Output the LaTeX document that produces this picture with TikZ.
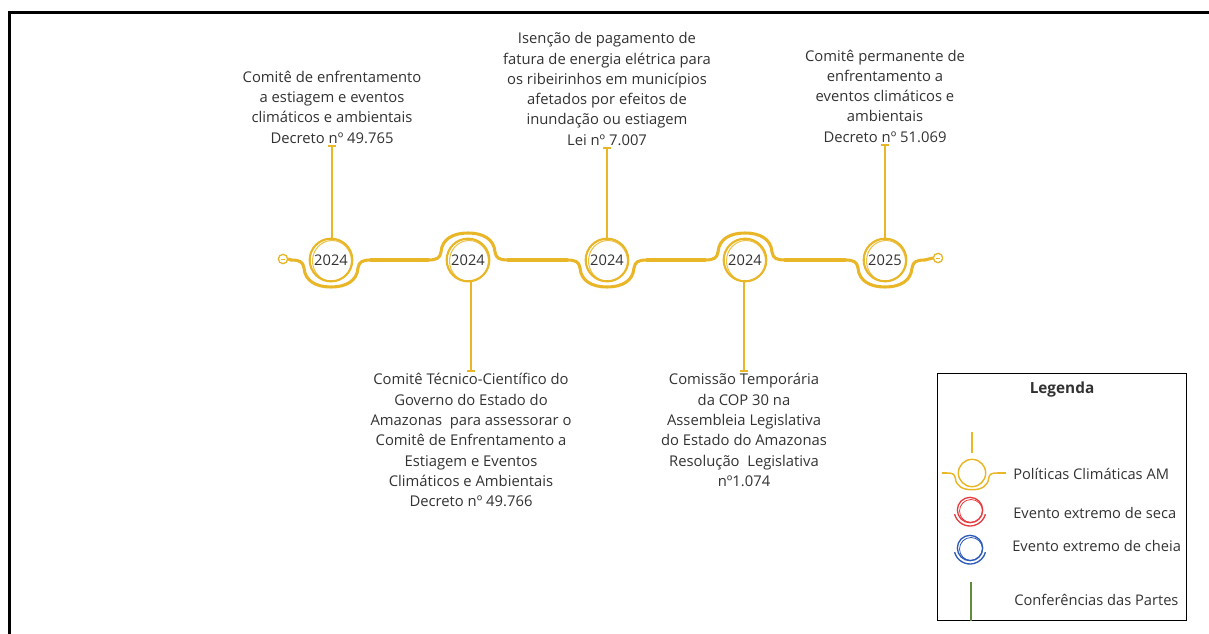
\documentclass[tikz,border=0pt]{standalone}
\usepackage{fontspec}
\setmainfont{Open Sans}
\usetikzlibrary{arrows.meta}
\definecolor{gold}{RGB}{233,182,40}
\definecolor{txt}{RGB}{50,50,50}
\definecolor{secared}{RGB}{230,60,64}
\definecolor{cheiablue}{RGB}{44,90,182}
\definecolor{copgreen}{RGB}{96,140,60}
\begin{document}
\begin{tikzpicture}[x=0.75pt,y=-0.75pt,
  tl/.style={gold, line width=2.3pt, line cap=round, line join=round},
  ring/.style={circle, draw=gold, line width=1.6pt, minimum size=32pt, inner sep=0pt, font=\fontsize{11}{12}\selectfont, text=txt},
  sketch/.style={gold, line width=0.8pt, opacity=0.85},
  endc/.style={circle, draw=gold, line width=1pt, minimum size=7pt, inner sep=0pt},
  stem/.style={gold, line width=1.4pt, -{Bar[width=6pt,line width=1.2pt]}},
  desc/.style={align=center, text=txt, font=\fontsize{11.1}{15.2}\selectfont, inner sep=1pt},
  leg/.style={anchor=west, text=txt, font=\fontsize{11}{12}\selectfont, inner sep=0pt},
  dipdown/.pic={\draw[tl] (-40,0) .. controls (-31,0) and (-28,2) .. (-27,8) .. controls (-26,21) and (-15,27) .. (0,27) .. controls (15,27) and (26,21) .. (27,8) .. controls (28,2) and (31,0) .. (40,0);
    \coordinate (-l) at (-40,0); \coordinate (-r) at (40,0);},
  dipup/.pic={\draw[tl] (-40,0) .. controls (-31,0) and (-28,-2) .. (-27,-8) .. controls (-26,-21) and (-15,-27) .. (0,-27) .. controls (15,-27) and (26,-21) .. (27,-8) .. controls (28,-2) and (31,0) .. (40,0);
    \coordinate (-l) at (-40,0); \coordinate (-r) at (40,0);},
]
\useasboundingbox (0,0) rectangle (1209,634);
% frame
\draw[line width=2.4pt, line join=miter] (9.5,634) -- (9.5,12.5) -- (1209,12.5);

% timeline
\node[ring] (c1) at (331,260) {2024};
\node[ring] (c2) at (468,260) {2024};
\node[ring] (c3) at (607,260) {2024};
\node[ring] (c4) at (745,260) {2024};
\node[ring] (c5) at (885,260) {2025};
\foreach \c in {c1,c2,c3,c4,c5}{
  \draw[sketch] ([shift={(1,1)}]\c.center) circle[x radius=19.5, y radius=20.5];
}
\node[endc] (e0) at (283,259) {};
\node[endc] (e1) at (938,258) {};
\draw[gold, line width=0.6pt] ([xshift=-1.5pt]e0.center) -- ([xshift=1.5pt]e0.center);
\draw[gold, line width=0.6pt] ([xshift=-1.5pt]e1.center) -- ([xshift=1.5pt]e1.center);

\pic (p1) at (c1) {dipdown};
\pic (p2) at (c2) {dipup};
\pic (p3) at (c3) {dipdown};
\pic (p4) at (c4) {dipup};
\pic (p5) at (c5) {dipdown};
\draw[tl] (e0.east) -- (p1-l);
\draw[tl] (p1-r) -- (p2-l);
\draw[tl] (p2-r) -- (p3-l);
\draw[tl] (p3-r) -- (p4-l);
\draw[tl] (p4-r) -- (p5-l);
\draw[tl] (p5-r) -- (e1.west);

% descriptions
\node[desc, anchor=south] (t1) at (332,145) {Comitê de enfrentamento\\a estiagem e eventos\\climáticos e ambientais\\Decreto nº 49.765};
\node[desc, anchor=north] (t2) at (471,372) {Comitê Técnico-Científico do\\Governo do Estado do\\Amazonas\ \ para assessorar o\\Comitê de Enfrentamento a\\Estiagem e Eventos\\Climáticos e Ambientais\\Decreto nº 49.766};
\node[desc, anchor=south] (t3) at (607,147) {Isenção de pagamento de\\fatura de energia elétrica para\\os ribeirinhos em municípios\\afetados por efeitos de\\inundação ou estiagem\\Lei nº 7.007};
\node[desc, anchor=north] (t4) at (744,372) {Comissão Temporária\\da COP 30 na\\Assembleia Legislativa\\do Estado do Amazonas\\Resolução\ \ Legislativa\\nº1.074};
\node[desc, anchor=south] (t5) at (885,144) {Comitê permanente de\\enfrentamento a\\eventos climáticos e\\ambientais\\Decreto nº 51.069};

\draw[stem] (c1.north -| t1.south) -- (t1.south);
\draw[stem] (c2.south -| t2.north) -- (t2.north);
\draw[stem] (c3.north -| t3.south) -- (t3.south);
\draw[stem] (c4.south -| t4.north) -- (t4.north);
\draw[stem] (c5.north -| t5.south) -- (t5.south);

% legend
\node[draw=black, line width=1.1pt, minimum width=186.75pt, minimum height=185.25pt, inner sep=0pt, anchor=north west] (lg) at (937,373) {};
\node[text=txt, font=\fontsize{11.5}{12}\selectfont\bfseries] (lgt) at (1062,390) {Legenda};

\draw[gold, line width=1.1pt] (972,432) -- (972,453);
\node[circle, draw=gold, line width=1.1pt, minimum size=20.5pt, inner sep=0pt] (ly) at (972,473) {};
\pic[tl/.style={gold, line width=1.1pt, line cap=round}, scale=0.62] (lp) at (ly) {dipdown};
\draw[gold, line width=1.1pt] (942,473) -- (lp-l);
\draw[gold, line width=1.1pt] (lp-r) -- (1006,473);
\node[leg] (l1) at (1013,474) {Políticas Climáticas AM};

\node[circle, draw=secared, line width=1pt, minimum size=19pt, inner sep=0pt] (lr) at (970,510) {};
\draw[secared, line width=0.6pt] ([shift={(1,1)}]lr.center) circle[radius=11.5];
\draw[secared, line width=1pt] (lr.center) ++(165:16) arc[start angle=165, end angle=15, radius=16];
\node[leg] (l2) at (1013,513) {Evento extremo de seca};

\node[circle, draw=cheiablue, line width=1pt, minimum size=19pt, inner sep=0pt] (lb) at (970,548) {};
\draw[cheiablue, line width=0.6pt] ([shift={(1,1)}]lb.center) circle[radius=11.5];
\draw[cheiablue, line width=1pt] (lb.center) ++(165:16) arc[start angle=165, end angle=15, radius=16];
\node[leg] (l3) at (1012,546) {Evento extremo de cheia};

\coordinate (gtop) at (971,582);
\draw[copgreen, line width=1pt] (gtop) -- (gtop |- lg.south);
\node[leg] (l4) at (1014,600) {Conferências das Partes};
\end{tikzpicture}
\end{document}
